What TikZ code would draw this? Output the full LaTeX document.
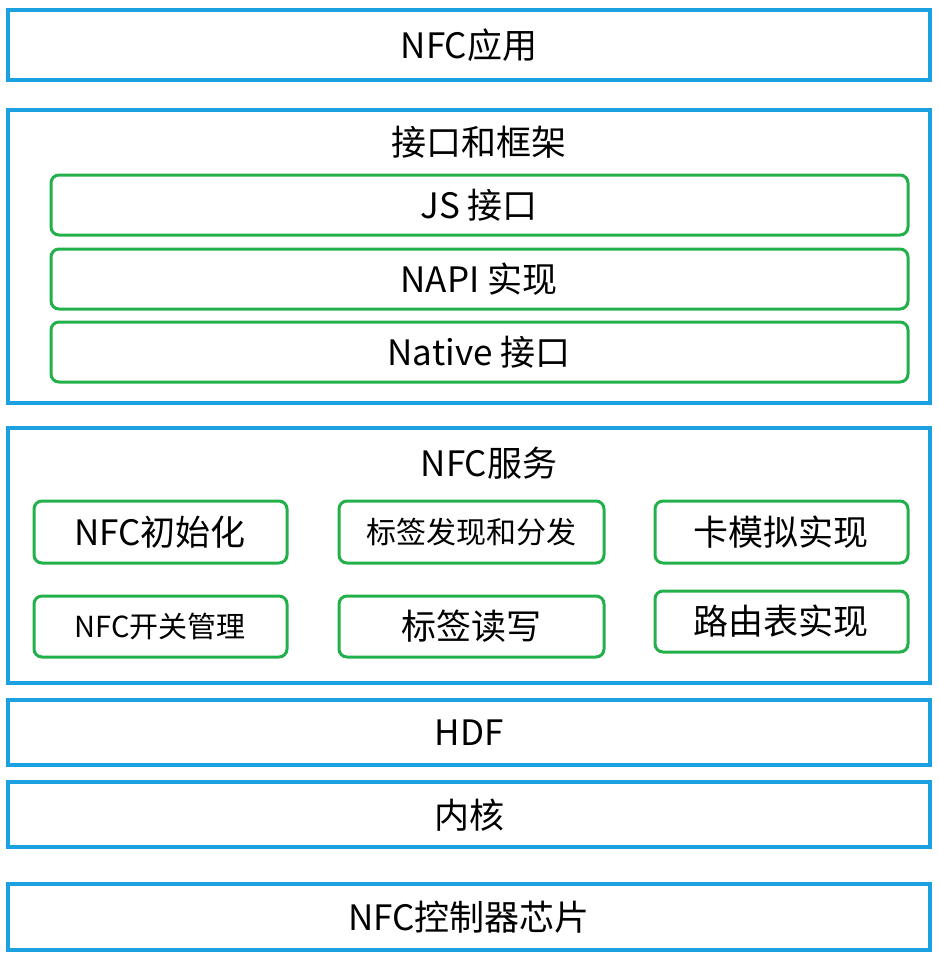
\documentclass[tikz,border=0pt]{standalone}
\usepackage{fontspec}
\setmainfont{Noto Sans CJK SC}
\definecolor{layerblue}{HTML}{1BA1E2}
\definecolor{modgreen}{HTML}{22B04B}
\begin{document}
\begin{tikzpicture}[x=1pt,y=-1pt,
  layer/.style={draw=layerblue,line width=3.5pt,inner sep=0pt},
  module/.style={draw=modgreen,line width=3pt,rounded corners=8pt,inner sep=0pt},
  every node/.style={font=\fontsize{35}{40}\selectfont}]
	\useasboundingbox (0,0) rectangle (939,961);
	%layers
	\draw[layer] (8,10) rectangle (930,80);
	\node (app) at (469,45){NFC应用};
	\draw[layer] (8,110) rectangle (930,403);
	\node (fw) at (479,142){接口和框架};
	\draw[layer] (8,428) rectangle (930,683);
	\node (svc) at (489,463){NFC服务};
	\draw[layer] (8,700) rectangle (930,765);
	\node (hdf) at (469,733){HDF};
	\draw[layer] (8,782) rectangle (930,847);
	\node (kern) at (469,815){内核};
	\draw[layer] (8,884) rectangle (930,950);
	\node (chip) at (469,917){NFC控制器芯片};
	%framework modules
	\draw[module] (51,175) rectangle (908,235);
	\node (js) at (479,205){JS 接口};
	\draw[module] (51,249) rectangle (908,309);
	\node (napi) at (479,279){NAPI 实现};
	\draw[module] (51,322) rectangle (908,382);
	\node (native) at (479,352){Native 接口};
	%service modules
	\draw[module] (34,501) rectangle (287,563);
	\node (init) at (160,532){NFC初始化};
	\draw[module] (339,501) rectangle (604,563);
	\node[font=\fontsize{30}{34}\selectfont] (disc) at (471,532){标签发现和分发};
	\draw[module] (655,501) rectangle (908,563);
	\node (card) at (781,532){卡模拟实现};
	\draw[module] (34,596) rectangle (287,657);
	\node[font=\fontsize{29}{33}\selectfont] (sw) at (160,626){NFC开关管理};
	\draw[module] (339,596) rectangle (604,657);
	\node (rw) at (471,626){标签读写};
	\draw[module] (655,591) rectangle (908,652);
	\node (route) at (781,621){路由表实现};
\end{tikzpicture}
\end{document}
